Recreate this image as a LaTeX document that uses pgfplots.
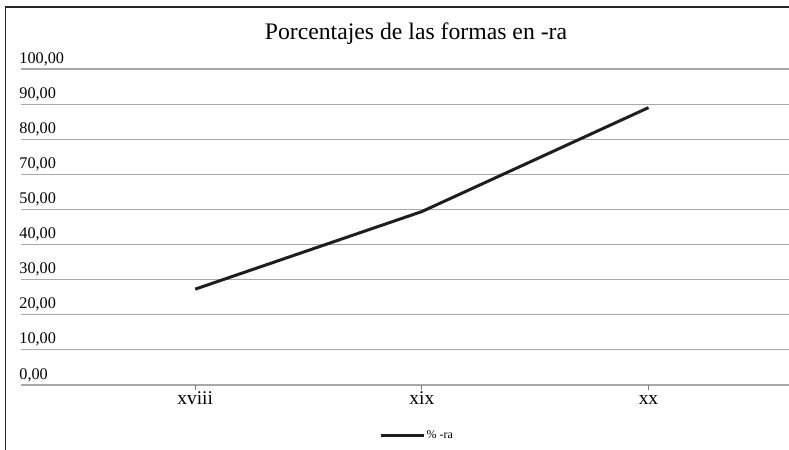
\documentclass[border=0pt]{standalone}
\usepackage{fontspec}
\setmainfont{Liberation Serif}
\usepackage{pgfplots}
\pgfplotsset{compat=1.18}
\definecolor{gridc}{HTML}{A8A8A8}
\definecolor{linec}{HTML}{1E1E1E}
\begin{document}
\begin{tikzpicture}
\begin{axis}[
  at={(0,0)}, anchor=south west,
  scale only axis, width=768.3bp, height=316bp,
  xmin=-0.77, xmax=2.62, ymin=0, ymax=90,
  xtick={0,1,2}, xticklabels={xviii,xix,xx},
  ytick={0,10,...,90},
  yticklabels={{0,00},{10,00},{20,00},{30,00},{40,00},{50,00},{70,00},{80,00},{90,00},{100,00}},
  axis line style={draw=none},
  ymajorgrids, major grid style={draw=gridc, line width=1.2bp},
  xtick pos=bottom,
  ytick style={draw=none},
  xtick style={draw=gray, line width=0.8bp},
  tick align=outside, major tick length=5bp,
  xticklabel style={font=\fontsize{19.5}{19.5}\selectfont, anchor=base, yshift=-14.5bp},
  yticklabel style={font=\fontsize{16.3}{16.3}\selectfont, anchor=base west, inner sep=0pt, yshift=6bp, xshift=3.5bp},
  title={Porcentajes de las formas en -ra},
  title style={font=\fontsize{23.8}{23.8}\selectfont, at={(0.5145,1.075)}, anchor=base},
  legend style={at={(0.5158,-0.1604)}, anchor=center, draw=none, fill=none, inner sep=0pt,
    font=\fontsize{12}{12}\selectfont, nodes={inner sep=1bp}},
  legend image code/.code={\draw[linec, line width=2.5bp] (0bp,0bp) -- (43bp,0bp);},
]
\addplot[linec, line width=3bp, line join=round] coordinates {(0,27.3) (1,49.4) (2,79.0)};
\addlegendentry{\% -ra}
\end{axis}
\draw[line width=1.3bp, black!85] (-15bp,-80bp) -- (-15bp,378bp) -- (800bp,378bp);
\pgfresetboundingbox
\path[use as bounding box] (-20.7bp,-65bp) rectangle (768.3bp,385bp);
\end{tikzpicture}
\end{document}
